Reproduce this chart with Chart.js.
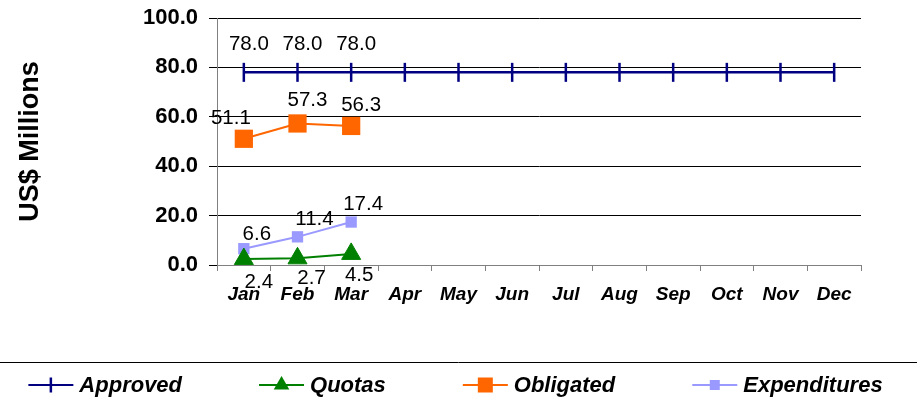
<!DOCTYPE html>
<html>
<head>
<meta charset="utf-8">
<script src="https://cdn.jsdelivr.net/npm/chart.js@4/dist/chart.umd.min.js"></script>
<style>
  html, body { margin: 0; padding: 0; background: #fff; }
  #wrap { width: 917px; height: 408px; }
</style>
</head>
<body>
<div id="wrap"><canvas id="c" width="917" height="408"></canvas></div>
<script>
// ---- data ----
const months = ['Jan','Feb','Mar','Apr','May','Jun','Jul','Aug','Sep','Oct','Nov','Dec'];
const approved = [78.0, 78.0, 78.0, 78.0, 78.0, 78.0, 78.0, 78.0, 78.0, 78.0, 78.0, 78.0];
const quotas = [2.4, 2.7, 4.5, null, null, null, null, null, null, null, null, null];
const obligated = [51.1, 57.3, 56.3, null, null, null, null, null, null, null, null, null];
const expenditures = [6.6, 11.4, 17.4, null, null, null, null, null, null, null, null, null];
const yTicks = [0, 20, 40, 60, 80, 100];
const axisTitle = 'US$ Millions';

const FONT = '"Liberation Sans", Arial, sans-serif';
const reportedMonths = obligated.filter(v => v !== null).length;

// draw a small marker (used by the legend)
function drawMarker(ctx, style, x, y, r, color) {
  ctx.save();
  ctx.fillStyle = color;
  ctx.strokeStyle = color;
  ctx.beginPath();
  if (style === 'vline') {
    ctx.lineWidth = 2.5;
    ctx.moveTo(x, y - r); ctx.lineTo(x, y + r); ctx.stroke();
  } else if (style === 'triangle') {
    ctx.moveTo(x, y - r);
    ctx.lineTo(x + r * 0.866, y + r * 0.5);
    ctx.lineTo(x - r * 0.866, y + r * 0.5);
    ctx.closePath(); ctx.fill();
  } else {
    ctx.rect(x - r, y - r, 2 * r, 2 * r); ctx.fill();
  }
  ctx.restore();
}

const labelPlugin = {
  id: 'valueLabels',
  afterDatasetsDraw(chart) {
    const ctx = chart.ctx;
    ctx.save();
    ctx.font = '20.5px ' + FONT;
    ctx.fillStyle = '#000';
    ctx.textAlign = 'center';
    ctx.textBaseline = 'middle';
    chart.data.datasets.forEach((ds, di) => {
      const meta = chart.getDatasetMeta(di);
      meta.data.forEach((pt, i) => {
        const v = ds.data[i];
        if (v === null || v === undefined || i >= reportedMonths) return;
        const off = (ds.labelOffsets && ds.labelOffsets[i]) || ds.labelOffset || [0, 0];
        ctx.fillText(v.toFixed(1), pt.x + off[0], pt.y + off[1]);
      });
    });
    ctx.restore();
  }
};

const legendPlugin = {
  id: 'customLegend',
  afterDraw(chart) {
    const ctx = chart.ctx;
    const W = chart.width;
    const lineY = 362.5;
    ctx.save();
    ctx.strokeStyle = '#000';
    ctx.lineWidth = 1;
    ctx.beginPath(); ctx.moveTo(0, lineY); ctx.lineTo(W, lineY); ctx.stroke();

    ctx.font = 'italic bold 22px ' + FONT;
    ctx.textBaseline = 'middle';
    ctx.textAlign = 'left';
    const lineLen = 45, textGap = 6, itemGap = 77;
    const items = chart.data.datasets.map(ds => ({
      ds, w: lineLen + textGap + ctx.measureText(ds.label).width
    }));
    const total = items.reduce((s, it) => s + it.w, 0) + itemGap * (items.length - 1);
    let x = (W - total) / 2 - 3;
    const y = 385;
    items.forEach(it => {
      const ds = it.ds;
      ctx.strokeStyle = ds.borderColor;
      ctx.lineWidth = 2;
      ctx.beginPath(); ctx.moveTo(x, y); ctx.lineTo(x + lineLen, y); ctx.stroke();
      drawMarker(ctx, ds.legendMarker, x + lineLen / 2, y, ds.legendRadius, ds.borderColor);
      ctx.fillStyle = '#000';
      ctx.fillText(ds.label, x + lineLen + textGap, y + 1);
      x += it.w + itemGap;
    });
    ctx.restore();
  }
};

new Chart(document.getElementById('c'), {
  type: 'line',
  data: {
    labels: months,
    datasets: [
      {
        label: 'Approved', data: approved,
        borderColor: '#000080', backgroundColor: '#000080', borderWidth: 2.5,
        pointStyle: 'line', pointRotation: 90, pointRadius: 9.5,
        pointBorderWidth: 2.5, pointBorderColor: '#000080',
        labelOffset: [5, -28], legendMarker: 'vline', legendRadius: 7.5
      },
      {
        label: 'Quotas', data: quotas,
        borderColor: '#008000', backgroundColor: '#008000', borderWidth: 2,
        pointStyle: 'triangle', pointRadius: 11, pointBorderWidth: 1,
        pointBackgroundColor: '#008000', pointBorderColor: '#008000',
        labelOffsets: [[15, 23], [14, 20], [8, 21]], legendMarker: 'triangle', legendRadius: 9
      },
      {
        label: 'Obligated', data: obligated,
        borderColor: '#FF6600', backgroundColor: '#FF6600', borderWidth: 2,
        pointStyle: 'rect', pointRadius: 12.9, pointBorderWidth: 0,
        pointBackgroundColor: '#FF6600', pointBorderColor: '#FF6600',
        labelOffsets: [[-13, -20], [10, -23], [10, -21]], legendMarker: 'rect', legendRadius: 7.5
      },
      {
        label: 'Expenditures', data: expenditures,
        borderColor: '#9999FF', backgroundColor: '#9999FF', borderWidth: 2,
        pointStyle: 'rect', pointRadius: 8, pointBorderWidth: 0,
        pointBackgroundColor: '#9999FF', pointBorderColor: '#9999FF',
        labelOffsets: [[13, -14], [17, -17], [12, -18]], legendMarker: 'rect', legendRadius: 5
      }
    ]
  },
  options: {
    responsive: false,
    animation: false,
    devicePixelRatio: 1,
    layout: { padding: { top: 18, right: 56, bottom: 46, left: 0 } },
    plugins: { legend: { display: false }, tooltip: { enabled: false } },
    scales: {
      x: {
        offset: true,
        grid: { offset: true, drawOnChartArea: false, tickLength: 6, color: '#808080', lineWidth: 1 },
        border: { color: '#808080', width: 1 },
        ticks: { font: { family: FONT, size: 19, weight: 'bold', style: 'italic' }, color: '#000', padding: 12, maxRotation: 0, autoSkip: false },
        afterFit(scale) { scale.height = 97; scale.paddingLeft = 0; scale.paddingRight = 0; }
      },
      y: {
        min: yTicks[0], max: yTicks[yTicks.length - 1],
        afterBuildTicks(scale) { scale.ticks = yTicks.map(v => ({ value: v })); },
        grid: { color: '#000', lineWidth: 1, tickLength: 8 },
        border: { color: '#808080', width: 1 },
        ticks: { font: { family: FONT, size: 22, weight: 'bold' }, color: '#000', padding: 11,
                 callback: v => Number(v).toFixed(1) },
        title: { display: true, text: axisTitle, color: '#000',
                 font: { family: FONT, size: 27, weight: 'bold' }, padding: { top: 14, bottom: 0 } },
        afterFit(scale) { scale.width = 217; scale.paddingTop = 0; scale.paddingBottom = 0; }
      }
    }
  },
  plugins: [labelPlugin, legendPlugin]
});
</script>
</body>
</html>
